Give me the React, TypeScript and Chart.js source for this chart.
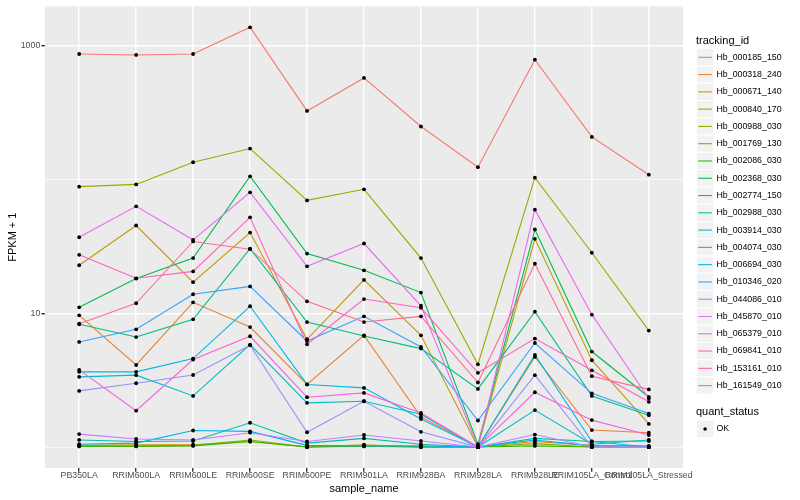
import { useEffect, useRef } from "react";
import { Chart, registerables } from "chart.js";

Chart.register(...registerables);

const FONT = "'Liberation Sans', Arial, Helvetica, sans-serif";

const sampleNames = [
  "PB350LA",
  "RRIM600LA",
  "RRIM600LE",
  "RRIM600SE",
  "RRIM600PE",
  "RRIM901LA",
  "RRIM928BA",
  "RRIM928LA",
  "RRIM928LE",
  "RRIM105LA_Control",
  "RRIM105LA_Stressed",
];

const trackingIds = [
  "Hb_000185_150",
  "Hb_000318_240",
  "Hb_000671_140",
  "Hb_000840_170",
  "Hb_000988_030",
  "Hb_001769_130",
  "Hb_002086_030",
  "Hb_002368_030",
  "Hb_002774_150",
  "Hb_002988_030",
  "Hb_003914_030",
  "Hb_004074_030",
  "Hb_006694_030",
  "Hb_010346_020",
  "Hb_044086_010",
  "Hb_045870_010",
  "Hb_065379_010",
  "Hb_069841_010",
  "Hb_153161_010",
  "Hb_161549_010",
];

const seriesColors = [
  "#F8766D", "#EA8331", "#D89000", "#C09B00", "#A3A500",
  "#7CAE00", "#39B600", "#00BB4E", "#00BF7D", "#00C1A3",
  "#00BFC4", "#00BAE0", "#00B0F6", "#35A2FF", "#9590FF",
  "#C77CFF", "#E76BF3", "#FA62DB", "#FF62BC", "#FF6C91",
];

// FPKM + 1 values, one array per tracking_id (order = sampleNames)
const hb_000185_150 = [871, 857, 871, 1380, 327, 577, 250, 124, 790, 209, 109];
const hb_000318_240 = [9.66, 4.11, 12.1, 7.9, 2.94, 6.85, 1.68, 1.0, 4.72, 1.34, 1.28];
const hb_000671_140 = [1.03, 1.04, 1.04, 1.1, 1.0, 1.04, 1.0, 1.0, 1.1, 1.03, 1.0];
const hb_000840_170 = [22.9, 45.4, 17.1, 40.2, 6.4, 17.8, 6.85, 1.0, 36.1, 4.46, 1.49];
const hb_000988_030 = [88.7, 92.2, 135, 171, 70, 84.7, 25.9, 4.16, 103.5, 28.4, 7.43];
const hb_001769_130 = [1.02, 1.02, 1.03, 1.13, 1.0, 1.02, 1.0, 1.0, 1.06, 1.0, 1.0];
const hb_002086_030 = [1.01, 1.01, 1.02, 1.1, 1.0, 1.01, 1.0, 1.0, 1.02, 1.0, 1.0];
const hb_002368_030 = [11.1, 18.2, 25.9, 106, 28.0, 21.0, 14.3, 1.05, 42.4, 5.18, 2.37];
const hb_002774_150 = [8.28, 6.65, 9.02, 30.5, 8.61, 6.77, 5.45, 2.72, 10.3, 2.41, 1.73];
const hb_002988_030 = [1.13, 1.1, 1.11, 1.52, 1.07, 1.16, 1.05, 1.0, 1.16, 1.1, 1.11];
const hb_003914_030 = [3.35, 3.45, 2.41, 5.84, 2.14, 2.2, 1.76, 1.0, 1.89, 1.05, 1.13];
const hb_004074_030 = [3.65, 3.65, 4.59, 11.3, 2.94, 2.77, 1.62, 1.0, 4.89, 1.1, 1.0];
const hb_006694_030 = [1.05, 1.07, 1.33, 1.31, 1.03, 1.02, 1.02, 1.0, 1.13, 1.02, 1.02];
const hb_010346_020 = [6.11, 7.6, 13.9, 15.9, 6.21, 9.5, 5.6, 1.58, 6.0, 2.52, 1.78];
const hb_044086_010 = [2.63, 3.0, 3.46, 5.77, 1.29, 2.2, 1.3, 1.0, 3.45, 1.0, 1.0];
const hb_045870_010 = [1.25, 1.15, 1.13, 1.28, 1.1, 1.23, 1.11, 1.0, 1.24, 1.0, 1.0];
const hb_065379_010 = [37.1, 63.2, 35.5, 80.4, 22.5, 33.3, 11.4, 1.0, 59.7, 9.78, 2.31];
const hb_069841_010 = [3.78, 1.87, 4.51, 6.74, 2.36, 2.54, 1.8, 1.0, 2.57, 1.59, 1.23];
const hb_153161_010 = [27.4, 18.3, 20.6, 52.3, 5.87, 12.8, 11.0, 3.59, 6.48, 3.75, 2.18];
const hb_161549_010 = [8.37, 11.9, 34.5, 30.2, 12.3, 8.61, 9.5, 3.04, 23.5, 3.39, 2.7];

const seriesValues = [
  hb_000185_150, hb_000318_240, hb_000671_140, hb_000840_170, hb_000988_030,
  hb_001769_130, hb_002086_030, hb_002368_030, hb_002774_150, hb_002988_030,
  hb_003914_030, hb_004074_030, hb_006694_030, hb_010346_020, hb_044086_010,
  hb_045870_010, hb_065379_010, hb_069841_010, hb_153161_010, hb_161549_010,
];

const yTickValues = [1, 10, 100, 1000];
const yTickLabels = ["", "10", "", "1000"];
const yMajorValues = [10, 1000];
const quantStatus = ["OK"];

const Y_MIN = 0.697;
const Y_MAX = 1982;

const panelPlugin = {
  id: "ggPanel",
  beforeDraw(chart: any) {
    const { ctx, chartArea } = chart;
    ctx.save();
    ctx.fillStyle = "#EBEBEB";
    ctx.fillRect(chartArea.left, chartArea.top, chartArea.right - chartArea.left, chartArea.bottom - chartArea.top);
    ctx.restore();
  },
};

const legendPlugin = {
  id: "ggLegend",
  afterDraw(chart: any) {
    const ctx = chart.ctx;
    ctx.save();
    ctx.textBaseline = "middle";
    ctx.textAlign = "left";
    ctx.fillStyle = "#000000";
    ctx.font = `11px ${FONT}`;
    ctx.fillText("tracking_id", 696, 40.5);
    const key = 17.28;
    trackingIds.forEach((id, i) => {
      const cy = 57.3 + i * key;
      ctx.fillStyle = "#F2F2F2";
      ctx.fillRect(696.5, cy - key / 2, key, key);
      ctx.strokeStyle = "#FFFFFF";
      ctx.lineWidth = 1;
      ctx.strokeRect(696.5, cy - key / 2, key, key);
      ctx.strokeStyle = seriesColors[i];
      ctx.lineWidth = 1.1;
      ctx.beginPath();
      ctx.moveTo(698.2, cy);
      ctx.lineTo(711.8, cy);
      ctx.stroke();
      ctx.fillStyle = "#000000";
      ctx.font = `8.8px ${FONT}`;
      ctx.fillText(id, 716.5, cy);
    });
    ctx.font = `11px ${FONT}`;
    ctx.fillText("quant_status", 696, 412.3);
    quantStatus.forEach((s, i) => {
      const cy = 429 + i * key;
      ctx.fillStyle = "#F2F2F2";
      ctx.fillRect(696.5, cy - key / 2, key, key);
      ctx.strokeStyle = "#FFFFFF";
      ctx.lineWidth = 1;
      ctx.strokeRect(696.5, cy - key / 2, key, key);
      ctx.fillStyle = "#000000";
      ctx.beginPath();
      ctx.arc(705.1, cy, 1.8, 0, Math.PI * 2);
      ctx.fill();
      ctx.font = `8.8px ${FONT}`;
      ctx.fillText(s, 716.5, cy);
    });
    ctx.restore();
  },
};

export default function App() {
  const canvasRef = useRef<HTMLCanvasElement | null>(null);

  useEffect(() => {
    if (!canvasRef.current) return;
    const n = seriesValues.length;
    const lineSets = seriesValues.map((vals, i) => ({
      label: trackingIds[i],
      data: vals.map((v, j) => ({ x: j, y: v })),
      borderColor: seriesColors[i],
      backgroundColor: seriesColors[i],
      borderWidth: 1.1,
      pointRadius: 0,
      tension: 0,
      fill: false,
      order: n - i + 1,
    }));
    const pointSets = seriesValues.map((vals, i) => ({
      label: trackingIds[i] + " point",
      data: vals.map((v, j) => ({ x: j, y: v })),
      showLine: false,
      pointRadius: 1.9,
      pointBorderWidth: 0,
      pointBackgroundColor: "#000000",
      pointBorderColor: "#000000",
      order: 0,
    }));

    const chart = new Chart(canvasRef.current, {
      type: "line",
      data: { datasets: [...lineSets, ...pointSets] as any },
      plugins: [panelPlugin, legendPlugin],
      options: {
        responsive: false,
        animation: false,
        events: [],
        devicePixelRatio: 1,
        layout: { padding: { left: 0, top: 5, right: 117, bottom: 0 } },
        plugins: { legend: { display: false }, tooltip: { enabled: false } },
        scales: {
          x: {
            type: "linear",
            min: -0.6,
            max: 10.6,
            afterBuildTicks: (scale: any) => {
              scale.ticks = sampleNames.map((_, i) => ({ value: i }));
            },
            afterFit: (scale: any) => {
              scale.height = 32;
            },
            ticks: {
              autoSkip: false,
              maxRotation: 0,
              minRotation: 0,
              padding: -1,
              color: "#4D4D4D",
              font: { family: FONT, size: 8.8 },
              callback: (value: any) => sampleNames[Math.round(Number(value))] ?? "",
            },
            grid: {
              color: "#FFFFFF",
              lineWidth: 1.4,
              tickColor: "#333333",
              tickLength: 3.7,
              drawTicks: true,
            },
            border: { display: false },
            title: {
              display: true,
              text: "sample_name",
              color: "#000000",
              font: { family: FONT, size: 11 },
              padding: { top: 0, bottom: 4.4 },
            },
          },
          y: {
            type: "logarithmic",
            min: Y_MIN,
            max: Y_MAX,
            afterBuildTicks: (scale: any) => {
              scale.ticks = yTickValues.map((v) => ({ value: v }));
            },
            afterFit: (scale: any) => {
              scale.width = 45;
            },
            ticks: {
              autoSkip: false,
              padding: 1,
              color: "#4D4D4D",
              font: { family: FONT, size: 8.8 },
              callback: (_v: any, index: number) => yTickLabels[index] ?? "",
            },
            grid: {
              color: "#FFFFFF",
              lineWidth: (ctx: any) => (ctx.tick && yMajorValues.includes(ctx.tick.value) ? 1.4 : 0.7),
              tickColor: (ctx: any) =>
                ctx.tick && yMajorValues.includes(ctx.tick.value) ? "#333333" : "rgba(0,0,0,0)",
              tickLength: 3.7,
              drawTicks: true,
            },
            border: { display: false },
            title: {
              display: true,
              text: "FPKM + 1",
              color: "#000000",
              font: { family: FONT, size: 11 },
              padding: { top: 6.4, bottom: 0 },
            },
          },
        },
      } as any,
    });
    return () => chart.destroy();
  }, []);

  return (
    <div style={{ position: "absolute", left: 0, top: 0, width: 800, height: 500, background: "#FFFFFF" }}>
      <canvas ref={canvasRef} width={800} height={500} style={{ width: 800, height: 500, display: "block" }} />
    </div>
  );
}
